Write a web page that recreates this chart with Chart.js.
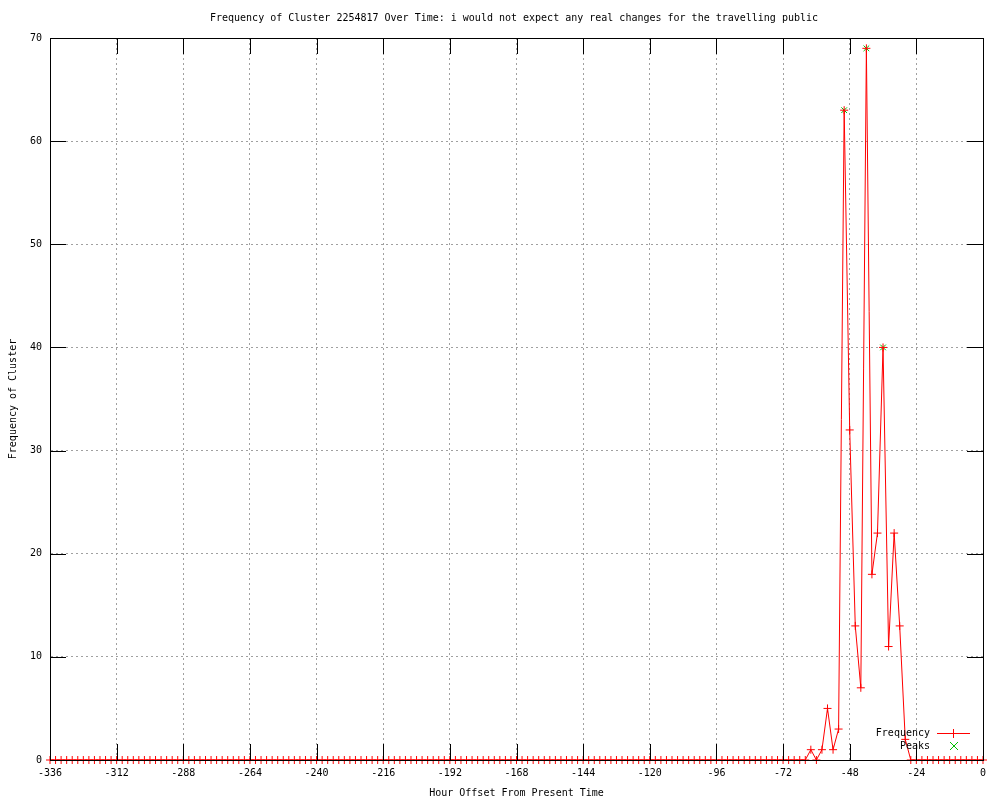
<!DOCTYPE html>
<html>
<head>
<meta charset="utf-8">
<script src="https://cdn.jsdelivr.net/npm/chart.js@4/dist/chart.umd.min.js"></script>
<style>
  html, body { margin: 0; padding: 0; background: #ffffff; }
  #wrap { width: 1000px; height: 800px; }
</style>
</head>
<body>
<div id="wrap"><canvas id="freqChart" width="1000" height="800"></canvas></div>
<script>
// hour offsets, one point every 2 hours
const hours = [
  -336, -334, -332, -330, -328, -326, -324, -322, -320, -318, -316, -314,
  -312, -310, -308, -306, -304, -302, -300, -298, -296, -294, -292, -290,
  -288, -286, -284, -282, -280, -278, -276, -274, -272, -270, -268, -266,
  -264, -262, -260, -258, -256, -254, -252, -250, -248, -246, -244, -242,
  -240, -238, -236, -234, -232, -230, -228, -226, -224, -222, -220, -218,
  -216, -214, -212, -210, -208, -206, -204, -202, -200, -198, -196, -194,
  -192, -190, -188, -186, -184, -182, -180, -178, -176, -174, -172, -170,
  -168, -166, -164, -162, -160, -158, -156, -154, -152, -150, -148, -146,
  -144, -142, -140, -138, -136, -134, -132, -130, -128, -126, -124, -122,
  -120, -118, -116, -114, -112, -110, -108, -106, -104, -102, -100, -98,
  -96, -94, -92, -90, -88, -86, -84, -82, -80, -78, -76, -74,
  -72, -70, -68, -66, -64, -62, -60, -58, -56, -54, -52, -50,
  -48, -46, -44, -42, -40, -38, -36, -34, -32, -30, -28, -26,
  -24, -22, -20, -18, -16, -14, -12, -10, -8, -6, -4, -2,
  0
];

const frequency = [
  0, 0, 0, 0, 0, 0, 0, 0, 0, 0, 0, 0,
  0, 0, 0, 0, 0, 0, 0, 0, 0, 0, 0, 0,
  0, 0, 0, 0, 0, 0, 0, 0, 0, 0, 0, 0,
  0, 0, 0, 0, 0, 0, 0, 0, 0, 0, 0, 0,
  0, 0, 0, 0, 0, 0, 0, 0, 0, 0, 0, 0,
  0, 0, 0, 0, 0, 0, 0, 0, 0, 0, 0, 0,
  0, 0, 0, 0, 0, 0, 0, 0, 0, 0, 0, 0,
  0, 0, 0, 0, 0, 0, 0, 0, 0, 0, 0, 0,
  0, 0, 0, 0, 0, 0, 0, 0, 0, 0, 0, 0,
  0, 0, 0, 0, 0, 0, 0, 0, 0, 0, 0, 0,
  0, 0, 0, 0, 0, 0, 0, 0, 0, 0, 0, 0,
  0, 0, 0, 0, 0, 1, 0, 1, 5, 1, 3, 63,
  32, 13, 7, 69, 18, 22, 40, 11, 22, 13, 2, 0,
  0, 0, 0, 0, 0, 0, 0, 0, 0, 0, 0, 0,
  0
];

const peakHours = [-50, -42, -36];
const peakValues = [63, 69, 40];

const xTicks = [-336, -312, -288, -264, -240, -216, -192, -168, -144, -120, -96, -72, -48, -24, 0];
const yTicks = [0, 10, 20, 30, 40, 50, 60, 70];

const titleText = "Frequency of Cluster 2254817 Over Time: i would not expect any real changes for the travelling public";
const xTitle = "Hour Offset From Present Time";
const yTitle = "Frequency of Cluster";

const FONT = "10px 'DejaVu Sans Mono', monospace";

// =====================================
// gnuplot-like extras: title, axis labels, inward ticks, frame, key
// =====================================
const gnuplotLook = {
  id: "gnuplotLook",
  afterDraw(chart) {
    const ctx = chart.ctx;
    const area = chart.chartArea;
    const xs = chart.scales.x;
    const ys = chart.scales.y;

    ctx.save();
    ctx.setLineDash([]);

    // frame
    ctx.strokeStyle = "#000000";
    ctx.lineWidth = 1;
    ctx.strokeRect(Math.round(area.left) + 0.5, Math.round(area.top) + 0.5,
      Math.round(area.right - area.left), Math.round(area.bottom - area.top));

    // inward tick marks
    const tickLen = 16;
    ctx.beginPath();
    xTicks.forEach(v => {
      const px = Math.round(xs.getPixelForValue(v)) + 0.5;
      ctx.moveTo(px, area.bottom);
      ctx.lineTo(px, area.bottom - tickLen);
      ctx.moveTo(px, area.top);
      ctx.lineTo(px, area.top + tickLen);
    });
    yTicks.forEach(v => {
      const py = Math.round(ys.getPixelForValue(v)) + 0.5;
      ctx.moveTo(area.left, py);
      ctx.lineTo(area.left + tickLen, py);
      ctx.moveTo(area.right, py);
      ctx.lineTo(area.right - tickLen, py);
    });
    ctx.stroke();

    // texts
    ctx.fillStyle = "#000000";
    ctx.font = FONT;
    ctx.textAlign = "center";
    ctx.textBaseline = "middle";
    ctx.fillText(titleText, 514, 18);
    ctx.fillText(xTitle, (area.left + area.right) / 2, 793);

    ctx.save();
    ctx.translate(13, (area.top + area.bottom) / 2);
    ctx.rotate(-Math.PI / 2);
    ctx.fillText(yTitle, 0, 0);
    ctx.restore();

    // key
    ctx.textAlign = "right";
    ctx.fillText("Frequency", 930, 733);
    ctx.fillText("Peaks", 930, 746);

    ctx.fillStyle = "#ff0000";
    ctx.fillRect(937, 733, 33, 1);
    ctx.fillRect(953, 729, 1, 9);

    ctx.strokeStyle = "#00c000";
    ctx.beginPath();
    ctx.moveTo(950, 742);
    ctx.lineTo(958, 750);
    ctx.moveTo(958, 742);
    ctx.lineTo(950, 750);
    ctx.stroke();

    ctx.restore();
  }
};

const whiteBg = {
  id: "whiteBg",
  beforeDraw(chart) {
    const ctx = chart.ctx;
    ctx.save();
    ctx.fillStyle = "#ffffff";
    ctx.fillRect(0, 0, chart.width, chart.height);
    ctx.restore();
  }
};

new Chart(document.getElementById("freqChart"), {
  type: "line",
  data: {
    datasets: [
      {
        label: "Frequency",
        data: hours.map((h, i) => ({ x: h, y: frequency[i] })),
        borderColor: "#ff0000",
        backgroundColor: "#ff0000",
        borderWidth: 1,
        pointStyle: "cross",
        pointRadius: 4,
        pointBorderWidth: 1,
        tension: 0,
        clip: false
      },
      {
        label: "Peaks",
        data: peakHours.map((h, i) => ({ x: h, y: peakValues[i] })),
        borderColor: "#00c000",
        backgroundColor: "#00c000",
        showLine: false,
        pointStyle: "crossRot",
        pointRadius: 4,
        pointBorderWidth: 1,
        clip: false
      }
    ]
  },
  options: {
    responsive: false,
    animation: false,
    devicePixelRatio: 1,
    layout: {
      padding: { top: 38, right: 17, left: 0, bottom: 0 }
    },
    plugins: {
      legend: { display: false },
      title: { display: false },
      tooltip: { enabled: false }
    },
    scales: {
      x: {
        type: "linear",
        min: -336,
        max: 0,
        afterFit(scale) { scale.height = 40; },
        afterBuildTicks(scale) { scale.ticks = xTicks.map(v => ({ value: v })); },
        grid: { color: "#a0a0a0", drawTicks: false, lineWidth: 1 },
        border: { display: true, color: "#000000", width: 1, dash: [2, 3] },
        ticks: {
          color: "#000000",
          font: { family: "'DejaVu Sans Mono', monospace", size: 10 },
          padding: 7,
          maxRotation: 0,
          autoSkip: false
        }
      },
      y: {
        type: "linear",
        min: 0,
        max: 70,
        afterFit(scale) { scale.width = 50; },
        afterBuildTicks(scale) { scale.ticks = yTicks.map(v => ({ value: v })); },
        grid: { color: "#a0a0a0", drawTicks: false, lineWidth: 1 },
        border: { display: true, color: "#000000", width: 1, dash: [2, 3] },
        ticks: {
          color: "#000000",
          font: { family: "'DejaVu Sans Mono', monospace", size: 10 },
          padding: 8
        }
      }
    }
  },
  plugins: [whiteBg, gnuplotLook]
});
</script>
</body>
</html>
